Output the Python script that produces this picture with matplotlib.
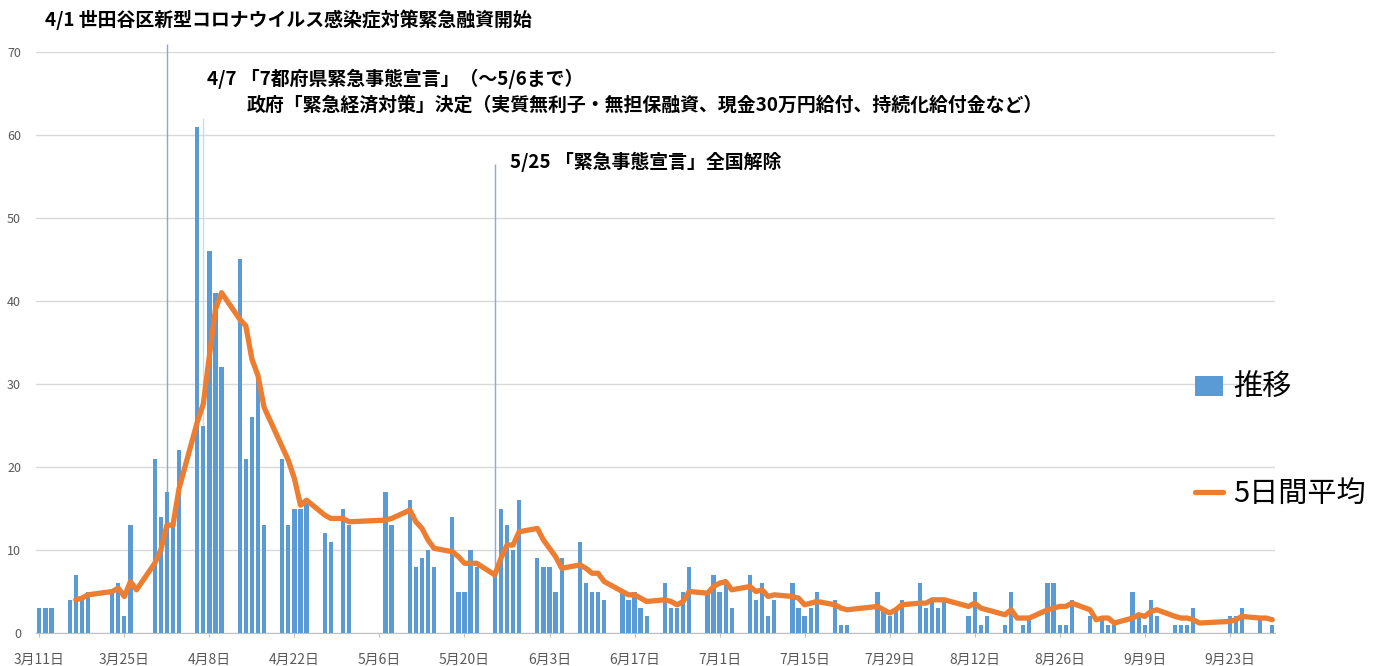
import matplotlib
matplotlib.use('Agg')
import matplotlib.pyplot as plt
import pandas as pd

plt.rcParams['font.family'] = ['Noto Sans CJK JP', 'DejaVu Sans']

# 土日・祝日を除く営業日ごとの件数 (2020/3/11 - 9/30)
holidays = ['2020-03-20', '2020-04-29', '2020-05-04', '2020-05-05', '2020-05-06',
            '2020-07-23', '2020-07-24', '2020-08-10', '2020-09-21', '2020-09-22']

counts = [3, 3, 3,
          4, 7, 4, 5,
          5, 6, 2, 13, 0,
          21, 14, 17, 13, 22,
          61, 25, 46, 41, 32,
          45, 21, 26, 31, 13,
          21, 13, 15, 15, 16,
          12, 11, 15, 13,
          17, 13,
          16, 8, 9, 10, 8,
          14, 5, 5, 10, 8,
          7, 15, 13, 10, 16,
          9, 8, 8, 5, 9,
          11, 6, 5, 5, 4,
          5, 4, 5, 3, 2,
          6, 3, 3, 5, 8,
          5, 7, 5, 6, 3,
          7, 4, 6, 2, 4,
          6, 3, 2, 3, 5,
          4, 1, 1,
          5, 3, 2, 3, 4,
          6, 3, 4, 3, 4,
          2, 5, 1, 2,
          1, 5, 0, 1, 2,
          6, 6, 1, 1, 4,
          2, 0, 2, 1, 1,
          5, 2, 1, 4, 2,
          1, 1, 1, 3, 0,
          2, 2, 3,
          2, 0, 1]

event_dates = ['2020-04-01', '2020-04-07', '2020-05-25']
event_tops = [71, 62, 56.5]

days = pd.bdate_range('2020-03-11', '2020-09-30')
days = days[~days.isin(pd.to_datetime(holidays))]
s = pd.Series(counts, index=days)
avg = s.rolling(5).mean()

W, H = 1383, 666
fig = plt.figure(figsize=(W / 100, H / 100), dpi=100)
ax = fig.add_axes([36.3 / W, 33 / H, (1275.3 - 36.3) / W, 581 / H])

bars = ax.bar(s.index, s.values, width=0.7, color='#5B9BD5', zorder=3, label='推移')
line, = ax.plot(avg.index, avg.values, color='#ED7D31', lw=3.8, zorder=4,
                solid_joinstyle='round', solid_capstyle='round', label='5日間平均')

ev_colors = ['#8EA9C8', '#C9DCEF', '#8FAACB']
for d, top, c in zip(event_dates, event_tops, ev_colors):
    ax.vlines(pd.Timestamp(d), 0, top, color=c, lw=1, zorder=2, clip_on=False)

ax.set_xlim(pd.Timestamp('2020-03-10 12:00'), pd.Timestamp('2020-09-30 12:00'))
ax.set_ylim(0, 70)
ax.set_yticks(range(0, 71, 10))
ax.yaxis.grid(True, color='#D9D9D9', lw=1)
ax.set_axisbelow(True)

ticks = pd.date_range('2020-03-11', '2020-09-30', freq='14D')
ax.set_xticks(ticks)
ax.set_xticklabels([f'{d.month}月{d.day}日' for d in ticks])

for sp in ['top', 'right', 'left']:
    ax.spines[sp].set_visible(False)
ax.spines['bottom'].set_color('#BFBFBF')
ax.tick_params(axis='y', length=0, pad=11, labelsize=9, labelcolor='#595959')
ax.tick_params(axis='x', length=3, color='#BFBFBF', pad=11, labelsize=10, labelcolor='#595959')

# 注記
fs = 13.6
fig.text(45 / W, 1 - 20 / H, '4/1 世田谷区新型コロナウイルス感染症対策緊急融資開始',
         fontsize=fs, fontweight='bold', va='center')
fig.text(207 / W, 1 - 79 / H, '4/7 「7都府県緊急事態宣言」（～5/6まで）',
         fontsize=fs, fontweight='bold', va='center')
fig.text(247 / W, 1 - 105 / H,
         '政府「緊急経済対策」決定（実質無利子・無担保融資、現金30万円給付、持続化給付金など）',
         fontsize=fs, fontweight='bold', va='center')
fig.text(510 / W, 1 - 162 / H, '5/25 「緊急事態宣言」全国解除',
         fontsize=fs, fontweight='bold', va='center')

ax.legend(handles=[bars, line], loc='center left', bbox_to_anchor=(1195 / W, 1 - 441 / H),
          bbox_transform=fig.transFigure, frameon=False, fontsize=21,
          handlelength=0.95, handletextpad=0.35, labelspacing=2.6,
          borderpad=0, borderaxespad=0)

fig.savefig('out.png', dpi=100)
